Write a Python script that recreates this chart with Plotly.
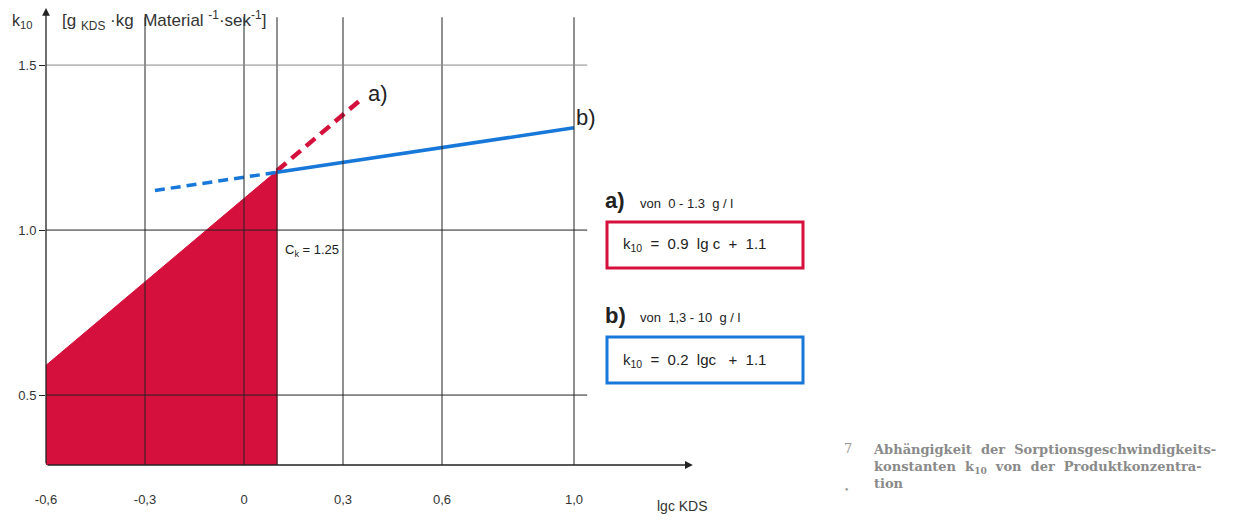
import plotly.graph_objects as go

# ---- data ----
x_ticks = [-0.6, -0.3, 0, 0.3, 0.6, 1.0]
x_ticklabels = ["-0,6", "-0,3", "0", "0,3", "0,6", "1,0"]
y_ticks = [0.5, 1.0, 1.5]
y_ticklabels = ["0.5", "1.0", "1.5"]

# a) red area + dashed continuation
fill_x = [-0.6, -0.6, 0.1, 0.1]
fill_y = [0.288, 0.59, 1.18, 0.288]
a_dash_x = [0.1, 0.36]
a_dash_y = [1.18, 1.40]
# b) blue line
b_dash_x = [-0.27, 0.1]
b_dash_y = [1.12, 1.175]
b_solid_x = [0.1, 1.0]
b_solid_y = [1.175, 1.31]

vgrid = [-0.3, 0, 0.1, 0.3, 0.6, 1.0]
hgrid = [0.5, 1.0, 1.5]

RED = "#d6103c"
BLUE = "#1778d9"

XR = [-0.6, 1.4]
YR = [0.288, 1.673]

# figure sits at (8,8) in the page (body margin)
OFF = 8
W, H = 1250 - OFF, 526 - OFF
L, T = 38, 0
B = H - 457
R = W - (L + 660)


def px(x):
    return (x - OFF - L) / (W - L - R)


def py(y):
    return (H - B - (y - OFF)) / (H - T - B)


fig = go.Figure()
fig.add_trace(go.Scatter(x=fill_x, y=fill_y, fill="toself", mode="lines",
                         line=dict(color=RED, width=1), fillcolor=RED,
                         hoverinfo="skip", showlegend=False))
fig.add_trace(go.Scatter(x=a_dash_x, y=a_dash_y, mode="lines",
                         line=dict(color=RED, width=4.5, dash="12px,7px"),
                         showlegend=False))
fig.add_trace(go.Scatter(x=b_dash_x, y=b_dash_y, mode="lines",
                         line=dict(color=BLUE, width=3.5, dash="10px,6px"),
                         showlegend=False))
fig.add_trace(go.Scatter(x=b_solid_x, y=b_solid_y, mode="lines",
                         line=dict(color=BLUE, width=3.5),
                         showlegend=False))

shapes = []
for v in vgrid:
    shapes.append(dict(type="line", xref="x", yref="y", x0=v, x1=v, y0=YR[0], y1=1.645,
                       line=dict(color="#222", width=1), layer="above"))
for h in hgrid:
    shapes.append(dict(type="line", xref="x", yref="y", x0=XR[0], x1=1.04, y0=h, y1=h,
                       line=dict(color="#222" if h < 1.5 else "#888", width=1), layer="above"))
# legend boxes
shapes.append(dict(type="rect", xref="paper", yref="paper", x0=px(607), x1=px(803),
                   y0=py(268), y1=py(222), line=dict(color=RED, width=3)))
shapes.append(dict(type="rect", xref="paper", yref="paper", x0=px(607), x1=px(803),
                   y0=py(383), y1=py(337), line=dict(color=BLUE, width=3)))
fig.update_layout(shapes=shapes)

# axis arrows
fig.add_annotation(x=-0.6, y=YR[1], ax=-0.6, ay=YR[0], xref="x", yref="y", axref="x", ayref="y",
                   showarrow=True, arrowhead=2, arrowsize=1.2, arrowwidth=1.3,
                   arrowcolor="#222", text="")
fig.add_annotation(x=1.36, y=YR[0], ax=-0.6, ay=YR[0], xref="x", yref="y", axref="x", ayref="y",
                   showarrow=True, arrowhead=2, arrowsize=1.2, arrowwidth=1.3,
                   arrowcolor="#222", text="")
# line labels
fig.add_annotation(x=0.37, y=1.415, xref="x", yref="y", text="a)", showarrow=False,
                   xanchor="left", yanchor="middle", font=dict(size=22, color="#222"))
fig.add_annotation(x=1.0, y=1.34, xref="x", yref="y", text="b)", showarrow=False,
                   xanchor="left", yanchor="middle", font=dict(size=22, color="#222"))

extra = [
    dict(x=px(283), y=py(251), text="C<sub>k</sub> = 1.25",
         font=dict(size=13, color="#222")),
    dict(x=px(10), y=py(22), text="k<sub>10</sub>",
         font=dict(size=16, color="#333")),
    dict(x=px(60), y=py(20),
         text="[g <sub>KDS</sub> ·kg  Material <sup>-1</sup>·sek<sup>-1</sup>]",
         font=dict(size=17, color="#333")),
    dict(x=px(655), y=py(506), text="lgc KDS",
         font=dict(size=14, color="#333")),
    dict(x=px(603), y=py(201), text="<b>a)</b>", font=dict(size=22, color="#222")),
    dict(x=px(638), y=py(203), text="von  0 - 1.3  g / l",
         font=dict(size=13, color="#222")),
    dict(x=px(603), y=py(315), text="<b>b)</b>", font=dict(size=22, color="#222")),
    dict(x=px(638), y=py(317), text="von  1,3 - 10  g / l",
         font=dict(size=13, color="#222")),
    dict(x=px(621), y=py(245), text="k<sub>10</sub>  =  0.9  lg c  +  1.1",
         font=dict(size=15, color="#222")),
    dict(x=px(621), y=py(360), text="k<sub>10</sub>  =  0.2  lgc   +  1.1",
         font=dict(size=15, color="#222")),
    dict(x=px(842), y=py(448), text="7",
         font=dict(size=13, color="#999", family="DejaVu Serif")),
    dict(x=px(842), y=py(490), text="•",
         font=dict(size=9, color="#999", family="DejaVu Serif")),
    dict(x=px(871), y=py(467), align="left",
         text="<b>Abhängigkeit  der  Sorptionsgeschwindigkeits-</b><br>"
              "<b>konstanten  k<sub>10</sub>  von  der  Produktkonzentra-</b><br>"
              "<b>tion</b>",
         font=dict(size=13, color="#8a8a8a", family="DejaVu Serif")),
]
for e in extra:
    e.update(xref="paper", yref="paper", showarrow=False, xanchor="left", yanchor="middle")
    fig.add_annotation(**e)

fig.update_xaxes(range=XR, showgrid=False, zeroline=False, showline=False,
                 tickvals=x_ticks, ticktext=x_ticklabels, ticks="", ticklabelstandoff=25,
                 tickfont=dict(size=13, color="#333"))
fig.update_yaxes(range=YR, showgrid=False, zeroline=False, showline=False,
                 tickvals=y_ticks, ticktext=y_ticklabels, ticks="outside", ticklen=6,
                 tickcolor="#222", tickfont=dict(size=13, color="#333"))

fig.update_layout(width=W, height=H, margin=dict(l=L, r=R, t=T, b=B),
                  plot_bgcolor="white", paper_bgcolor="white",
                  font=dict(family="Liberation Sans, Arial, sans-serif"))

fig.write_html("out.html")
